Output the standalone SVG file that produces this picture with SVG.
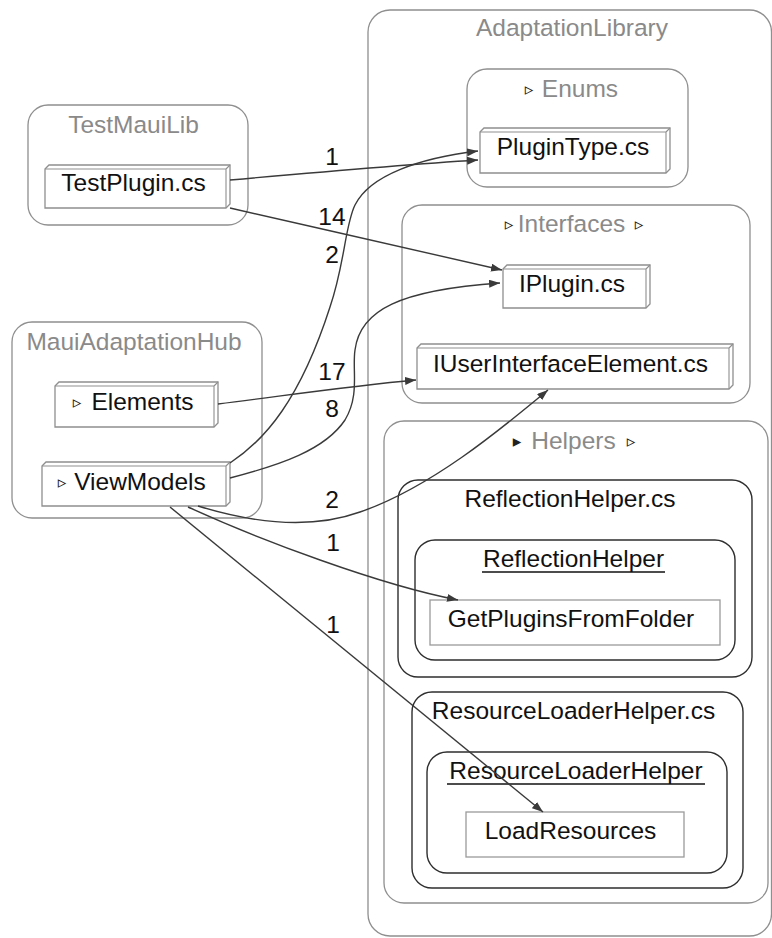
<svg xmlns="http://www.w3.org/2000/svg" width="772" height="938" viewBox="0 0 772 938">
  <style>
    text { font-family: "Liberation Sans", Arial, sans-serif; font-size: 24.5px; }
    .clabel { fill: #8a8a8a; text-anchor: middle; }
    .nlabel { fill: #111; text-anchor: middle; }
    .elabel { fill: #111; text-anchor: middle; }
    .tri { fill: #222; font-family: "DejaVu Sans", sans-serif; font-size: 17px; text-anchor: middle; }
    .cl { fill: none; stroke: #8f8f8f; stroke-width: 1.3; }
    .cl-dark { fill: none; stroke: #2e2e2e; stroke-width: 1.4; }
    .box3d { fill: #fff; stroke: #8f8f8f; stroke-width: 1.3; }
    .box3d-in { fill: none; stroke: #8f8f8f; stroke-width: 1.1; }
    .method { fill: #fff; stroke: #9a9a9a; stroke-width: 1.3; }
    .edge { fill: none; stroke: #3a3a3a; stroke-width: 1.4; marker-end: url(#arrow); }
    .ul { stroke: #111; stroke-width: 1.5; }
  </style>
  <defs>
    <marker id="arrow" markerUnits="userSpaceOnUse" markerWidth="11" markerHeight="8" refX="11" refY="4" orient="auto">
      <path d="M0,0 L11,4 L0,8 Z" fill="#3a3a3a"/>
    </marker>
  </defs>
  <rect width="772" height="938" fill="#fff"/>

  <!-- clusters -->
  <g id="AdaptationLibrary">
    <rect class="cl" x="368" y="10" width="403.5" height="926" rx="22"/>
    <text class="clabel" x="572" y="36">AdaptationLibrary</text>
  </g>
  <g id="Enums">
    <rect class="cl" x="467" y="69" width="221" height="118" rx="20"/>
    <text class="tri" x="529" y="95">▹</text>
    <text class="clabel" x="580" y="97">Enums</text>
  </g>
  <g id="Interfaces">
    <rect class="cl" x="402" y="205" width="348" height="198" rx="20"/>
    <text class="tri" x="509" y="230">▹</text>
    <text class="clabel" x="571.5" y="232">Interfaces</text>
    <text class="tri" x="639" y="230">▹</text>
  </g>
  <g id="Helpers">
    <rect class="cl" x="384" y="421" width="384" height="482" rx="20"/>
    <text class="tri" x="517" y="447">▸</text>
    <text class="clabel" x="573.5" y="449">Helpers</text>
    <text class="tri" x="631" y="447">▹</text>
  </g>
  <g id="ReflectionHelper.cs">
    <rect class="cl-dark" x="398" y="480" width="354" height="197" rx="20"/>
    <text class="nlabel" x="570" y="507">ReflectionHelper.cs</text>
  </g>
  <g id="ReflectionHelper">
    <rect class="cl-dark" x="415" y="540" width="320" height="120" rx="20"/>
    <text class="nlabel" x="573.5" y="567">ReflectionHelper</text>
    <line class="ul" x1="482" y1="572" x2="665" y2="572"/>
  </g>
  <g id="GetPluginsFromFolder">
    <rect class="method" x="430" y="600" width="290" height="45"/>
    <text class="nlabel" x="571" y="627">GetPluginsFromFolder</text>
  </g>
  <g id="ResourceLoaderHelper.cs">
    <rect class="cl-dark" x="412" y="692" width="331" height="196" rx="20"/>
    <text class="nlabel" x="573.5" y="719">ResourceLoaderHelper.cs</text>
  </g>
  <g id="ResourceLoaderHelper">
    <rect class="cl-dark" x="427" y="752" width="300" height="121" rx="20"/>
    <text class="nlabel" x="576" y="779">ResourceLoaderHelper</text>
    <line class="ul" x1="447" y1="784" x2="705" y2="784"/>
  </g>
  <g id="LoadResources">
    <rect class="method" x="466" y="812" width="218" height="45"/>
    <text class="nlabel" x="570.5" y="839">LoadResources</text>
  </g>
  <g id="TestMauiLib">
    <rect class="cl" x="28" y="105" width="220" height="120" rx="20"/>
    <text class="clabel" x="133.5" y="133">TestMauiLib</text>
  </g>
  <g id="MauiAdaptationHub">
    <rect class="cl" x="12" y="322" width="250" height="196" rx="20"/>
    <text class="clabel" x="134" y="350">MauiAdaptationHub</text>
  </g>

  <!-- file / folder nodes (box3d) -->
  <g id="PluginType.cs">
    <path class="box3d" d="M480,132 L484,128 L670,128 L670,169 L666,173 L480,173 Z"/>
    <path class="box3d-in" d="M480,132 H666 V173 M666,132 L670,128"/>
    <text class="nlabel" x="573" y="155">PluginType.cs</text>
  </g>
  <g id="IPlugin.cs">
    <path class="box3d" d="M503,269 L507,265 L650,265 L650,304 L646,308 L503,308 Z"/>
    <path class="box3d-in" d="M503,269 H646 V308 M646,269 L650,265"/>
    <text class="nlabel" x="572" y="292">IPlugin.cs</text>
  </g>
  <g id="IUserInterfaceElement.cs">
    <path class="box3d" d="M417,348 L421,344 L733,344 L733,385 L729,389 L417,389 Z"/>
    <path class="box3d-in" d="M417,348 H729 V389 M729,348 L733,344"/>
    <text class="nlabel" x="570.5" y="372">IUserInterfaceElement.cs</text>
  </g>
  <g id="TestPlugin.cs">
    <path class="box3d" d="M45,169 L49,165 L230,165 L230,204 L226,208 L45,208 Z"/>
    <path class="box3d-in" d="M45,169 H226 V208 M226,169 L230,165"/>
    <text class="nlabel" x="133.5" y="191">TestPlugin.cs</text>
  </g>
  <g id="Elements">
    <path class="box3d" d="M55,386 L59,382 L218,382 L218,423 L214,427 L55,427 Z"/>
    <path class="box3d-in" d="M55,386 H214 V427 M214,386 L218,382"/>
    <text class="tri" x="77" y="408">▹</text>
    <text class="nlabel" x="142.5" y="410">Elements</text>
  </g>
  <g id="ViewModels">
    <path class="box3d" d="M42,466 L46,462 L230,462 L230,502 L226,506 L42,506 Z"/>
    <path class="box3d-in" d="M42,466 H226 V506 M226,466 L230,462"/>
    <text class="tri" x="62" y="488">▹</text>
    <text class="nlabel" x="140" y="490">ViewModels</text>
  </g>

  <!-- dependency connectors -->
  <g id="connectors">
    <path class="edge" d="M230,180 C320,172 400,165 478,160"/>
    <path class="edge" d="M230,208 C320,228 420,252 502,270"/>
    <path class="edge" d="M230,463 C265,440 300,400 330,307 C345,263 345,225 355,205 C370,175 420,158 478,151"/>
    <path class="edge" d="M230,478 C280,465 325,450 345,420 C360,395 352,370 355,350 C360,310 400,290 500,283"/>
    <path class="edge" d="M218,404 C290,395 350,386 416,380"/>
    <path class="edge" d="M198,506 C250,522 310,530 360,512 C430,488 500,430 548,390"/>
    <path class="edge" d="M188,507 C260,540 380,585 458,600"/>
    <path class="edge" d="M170,507 L543,812"/>
    <text class="elabel" x="332" y="165">1</text>
    <text class="elabel" x="332" y="225">14</text>
    <text class="elabel" x="332" y="263">2</text>
    <text class="elabel" x="332" y="380">17</text>
    <text class="elabel" x="332" y="417">8</text>
    <text class="elabel" x="332" y="508">2</text>
    <text class="elabel" x="333" y="551">1</text>
    <text class="elabel" x="333" y="633">1</text>
  </g>
</svg>
